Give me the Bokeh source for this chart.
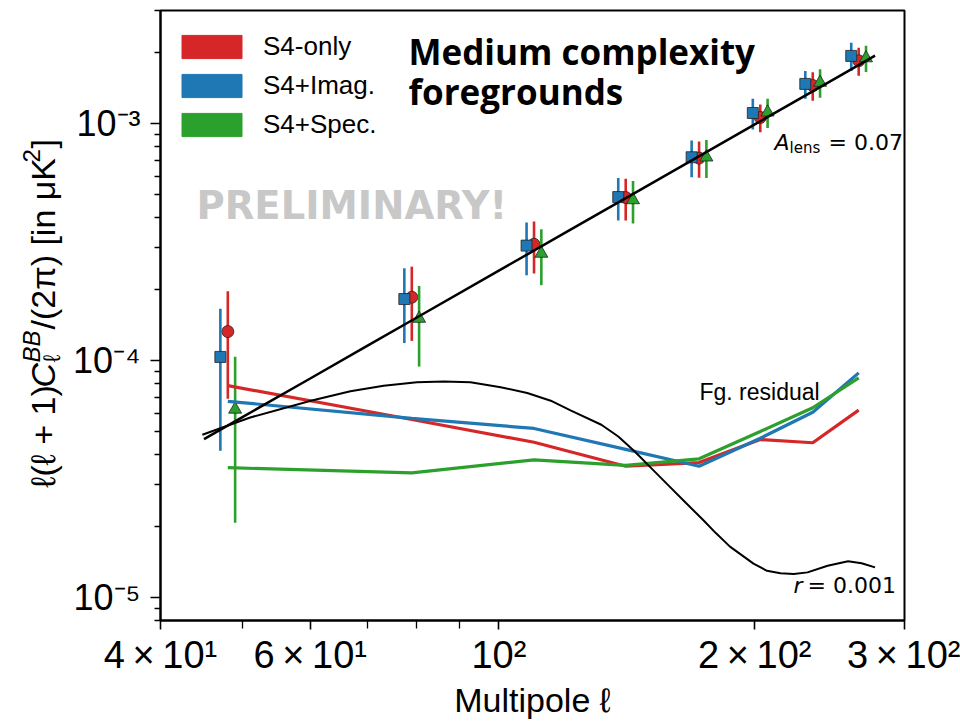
import math
from bokeh.plotting import figure
from bokeh.layouts import row
from bokeh.models import FixedTicker, Label, Legend, LegendItem
from bokeh.embed import file_html
from bokeh.resources import INLINE

# ---------------- data ----------------
ell_bins = [48, 79, 110, 141, 172, 203, 234, 265]

s4only_val = [1.325e-4, 1.85e-4, 3.095e-4, 4.875e-4, 7.15e-4, 1.061e-3, 1.447e-3, 1.84e-3]
s4only_err = [0.635e-4, 0.64e-4, 0.765e-4, 0.975e-4, 1.25e-4, 0.142e-3, 0.2e-3, 0.25e-3]
s4imag_val = [1.036e-4, 1.818e-4, 3.055e-4, 4.895e-4, 7.21e-4, 1.108e-3, 1.47e-3, 1.93e-3]
s4imag_err = [0.62e-4, 0.633e-4, 0.765e-4, 0.995e-4, 1.27e-4, 0.165e-3, 0.197e-3, 0.265e-3]
s4spec_val = [6.22e-5, 1.504e-4, 2.83e-4, 4.76e-4, 7.21e-4, 1.116e-3, 1.49e-3, 1.89e-3]
s4spec_err = [0.415e-4, 0.561e-4, 0.75e-4, 0.97e-4, 1.32e-4, 0.157e-3, 0.205e-3, 0.24e-3]

resid_s4only = [7.84e-5, 5.64e-5, 4.52e-5, 3.58e-5, 3.71e-5, 4.64e-5, 4.50e-5, 6.18e-5]
resid_s4imag = [6.73e-5, 5.70e-5, 5.17e-5, 4.22e-5, 3.58e-5, 4.70e-5, 6.05e-5, 8.87e-5]
resid_s4spec = [3.53e-5, 3.36e-5, 3.81e-5, 3.61e-5, 3.85e-5, 5.02e-5, 6.32e-5, 8.45e-5]

lens_ell = [45, 50, 60, 70, 80, 100, 120, 150, 200, 250, 277]
lens_dl = [4.66e-5, 5.79e-5, 8.40e-5, 1.153e-4, 1.516e-4, 2.395e-4, 3.48e-4,
           5.50e-4, 9.92e-4, 1.567e-3, 1.934e-3]

r_ell = [44.8, 51.0, 60.1, 66.9, 73.2, 80.1, 86.2, 92.6, 100.5, 108.0, 115.1, 121.6,
         132.0, 138.2, 144.6, 151.4, 158.5, 165.9, 173.8, 180.1, 187.0, 199.3, 206.7,
         214.4, 222.3, 230.7, 243.6, 257.5, 267.1, 277.0]
r_dl = [4.86e-5, 5.75e-5, 6.77e-5, 7.42e-5, 7.83e-5, 8.10e-5, 8.15e-5, 8.10e-5, 7.72e-5,
        7.30e-5, 6.77e-5, 6.15e-5, 5.36e-5, 4.78e-5, 4.12e-5, 3.49e-5, 2.96e-5, 2.51e-5,
        2.13e-5, 1.866e-5, 1.64e-5, 1.39e-5, 1.297e-5, 1.265e-5, 1.256e-5, 1.277e-5,
        1.362e-5, 1.423e-5, 1.396e-5, 1.341e-5]

series_names = ["S4-only", "S4+Imag.", "S4+Spec."]

x_tick_vals = [40, 60, 100, 200, 300]
x_tick_labels = ["4\u2009\u00d7\u200910\u00b9", "6\u2009\u00d7\u200910\u00b9", "10\u00b2",
                 "2\u2009\u00d7\u200910\u00b2", "3\u2009\u00d7\u200910\u00b2"]
x_minor_vals = [50, 70, 80, 90]
y_tick_vals = [1e-5, 1e-4, 1e-3]
y_tick_labels = ["10\u207b\u2075", "10\u207b\u2074", "10\u207b\u00b3"]
y_minor_vals = [8e-6, 9e-6] + [k * 1e-5 for k in range(2, 10)] + \
               [k * 1e-4 for k in range(2, 10)] + [2e-3, 3e-3]

# ---------------- style ----------------
RED = "#d62728"
BLUE = "#1f77b4"
GREEN = "#2ca02c"
BLUE_SHIFT = 0.98
GREEN_SHIFT = 1.02
SANS = "Liberation Sans"
NAN = float("nan")
YLAB_W = 66
H = 724
TOP, BOTTOM = 10, 104
MID = 0.34   # distance from baseline to text-box middle, in font-size units

p = figure(width=960 - YLAB_W, height=H, x_axis_type="log", y_axis_type="log",
           x_range=(40, 300), y_range=(8e-6, 3e-3),
           output_backend="svg", toolbar_location=None,
           min_border_left=160 - YLAB_W, min_border_right=56,
           min_border_top=TOP, min_border_bottom=BOTTOM)
p.grid.visible = False
p.background_fill_color = "white"
p.border_fill_color = "white"
p.outline_line_color = "black"
p.outline_line_width = 2
p.outline_line_alpha = 1.0

for ax in (p.xaxis[0], p.yaxis[0]):
    ax.axis_line_width = 2
    ax.axis_line_color = "black"
    ax.major_tick_line_width = 1.6
    ax.minor_tick_line_width = 1.3
    ax.major_tick_line_color = "black"
    ax.minor_tick_line_color = "black"
    ax.major_tick_in = 0
    ax.minor_tick_in = 0
    ax.major_label_text_font = SANS
    ax.major_label_text_color = "black"

p.xaxis.ticker = FixedTicker(ticks=x_tick_vals, minor_ticks=x_minor_vals)
p.xaxis.major_label_overrides = dict(zip(x_tick_vals, x_tick_labels))
p.xaxis.major_label_text_font_size = "38px"
p.xaxis.major_tick_out = 9
p.xaxis.minor_tick_out = 8
p.xaxis.major_label_standoff = 4
p.xaxis.axis_label = "Multipole \u2113"
p.xaxis.axis_label_text_font = SANS
p.xaxis.axis_label_text_font_size = "34px"
p.xaxis.axis_label_text_font_style = "normal"
p.xaxis.axis_label_text_color = "black"
p.xaxis.axis_label_standoff = 2

p.yaxis.ticker = FixedTicker(ticks=y_tick_vals, minor_ticks=y_minor_vals)
p.yaxis.major_label_overrides = dict(zip(y_tick_vals, y_tick_labels))
p.yaxis.major_label_text_font_size = "36px"
p.yaxis.major_tick_out = 10
p.yaxis.minor_tick_out = 6
p.yaxis.major_label_standoff = 10

# ---------------- error bars + markers ----------------
def errbar(xs, vals, errs, color, marker, size):
    lo = [v - e for v, e in zip(vals, errs)]
    hi = [v + e for v, e in zip(vals, errs)]
    p.segment(x0=xs, y0=lo, x1=xs, y1=hi, line_color=color, line_width=2.6)
    p.scatter(x=xs, y=vals, marker=marker, size=size, fill_color=color,
              line_color="#222222", line_width=0.8)

errbar(ell_bins, s4only_val, s4only_err, RED, "circle", 12)
errbar([l * BLUE_SHIFT for l in ell_bins], s4imag_val, s4imag_err, BLUE, "square", 11)
errbar([l * GREEN_SHIFT for l in ell_bins], s4spec_val, s4spec_err, GREEN, "triangle", 13)

# ---------------- residual lines ----------------
p.line(ell_bins, resid_s4only, line_color=RED, line_width=3.2)
p.line(ell_bins, resid_s4imag, line_color=BLUE, line_width=3.2)
p.line(ell_bins, resid_s4spec, line_color=GREEN, line_width=3.2)

# ---------------- theory curves ----------------
p.line(lens_ell, lens_dl, line_color="black", line_width=2.5)
p.line(r_ell, r_dl, line_color="black", line_width=2.0)

# ---------------- legend (patch proxies, nothing drawn in the frame) ----------------
leg_r = [p.quad(left=[NAN], right=[NAN], top=[NAN], bottom=[NAN], fill_color=c, line_color=c)
         for c in (RED, BLUE, GREEN)]
legend = Legend(items=[LegendItem(label=n, renderers=[r]) for n, r in zip(series_names, leg_r)],
                location=(14, 480), orientation="vertical",
                glyph_width=75, glyph_height=29, label_height=29, spacing=8,
                padding=0, margin=0, label_standoff=14,
                label_text_font=SANS, label_text_font_size="26px", label_text_color="black",
                border_line_color=None, background_fill_alpha=0)
p.add_layout(legend)

# ---------------- texts ----------------
def lab(fig, x, y, text, size, font=SANS, style="normal", color="black",
        rotated=False, units="screen"):
    """(x, y) is the start of the text on its baseline."""
    if rotated:
        x = x - MID * size
    else:
        y = y + MID * size
    fig.add_layout(Label(x=x, y=y, x_units=units, y_units=units, text=text,
                         text_font=font, text_font_size=f"{size}px", text_font_style=style,
                         text_color=color, angle=(math.pi / 2 if rotated else 0.0),
                         text_align="left", text_baseline="middle"))

lab(p, 248, 557, "Medium complexity", 35, font="Open Sans", style="bold")
lab(p, 248, 517, "foregrounds", 35, font="Open Sans", style="bold")
lab(p, 36, 402, "PRELIMINARY!", 38.5, font="DejaVu Sans", style="bold", color="#c8c8c8")
lab(p, 539, 221, "Fg. residual", 23)

lab(p, 614, 471, "A", 22, font="DejaVu Sans", style="italic")
lab(p, 629, 467, "lens", 15, font="DejaVu Sans")
lab(p, 668, 471, "= 0.07", 22, font="DejaVu Sans")
lab(p, 633, 28, "r", 22, font="DejaVu Sans", style="italic")
lab(p, 647, 28, "= 0.001", 22, font="DejaVu Sans")

# ---------------- y axis label, composed in a narrow side figure ----------------
# its frame spans the same rows as the main frame; data units are pixels up from the frame bottom
ylab = figure(width=YLAB_W, height=H, output_backend="svg", toolbar_location=None,
              x_range=(0, YLAB_W), y_range=(0, H - TOP - BOTTOM),
              x_axis_location=None, y_axis_location=None,
              min_border_left=0, min_border_right=0,
              min_border_top=TOP, min_border_bottom=BOTTOM)
ylab.grid.visible = False
ylab.outline_line_color = None
ylab.background_fill_color = "white"
ylab.border_fill_color = "white"

bx = 54
y0 = 133
lab(ylab, bx, y0, "\u2113(\u2113 + 1)", 34, rotated=True, units="data")
lab(ylab, bx, y0 + 100, "C", 34, style="italic", rotated=True, units="data")
lab(ylab, bx - 15, y0 + 125, "BB", 24, style="italic", rotated=True, units="data")
lab(ylab, bx + 5, y0 + 125, "\u2113", 24, rotated=True, units="data")
lab(ylab, bx, y0 + 158, "/(2\u03c0) [in \u03bcK", 34, rotated=True, units="data")
lab(ylab, bx - 15, y0 + 325, "2", 24, rotated=True, units="data")
lab(ylab, bx, y0 + 339, "]", 34, rotated=True, units="data")

layout = row(ylab, p)
open("out.html", "w").write(file_html(layout, INLINE))
